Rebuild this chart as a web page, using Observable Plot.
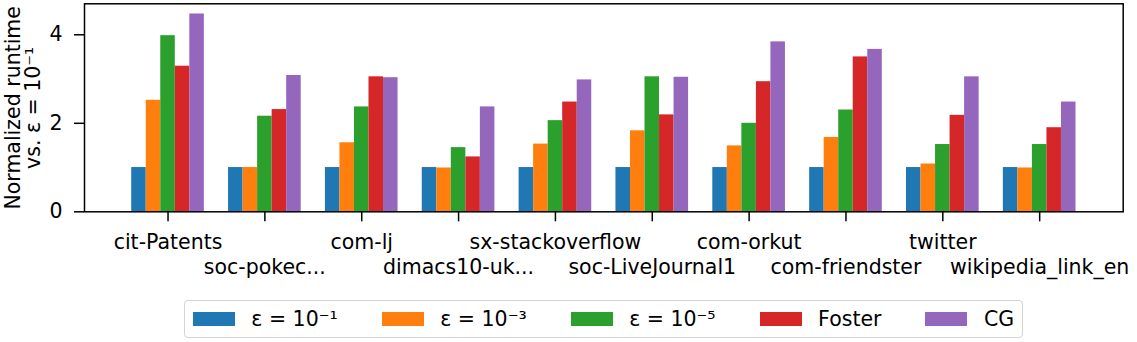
<!DOCTYPE html>
<html>
<head>
<meta charset="utf-8">
<script src="https://cdn.jsdelivr.net/npm/d3@7"></script>
<script src="https://cdn.jsdelivr.net/npm/@observablehq/plot@0.6"></script>
<style>
  html, body { margin: 0; padding: 0; background: #fff; }
  body { width: 1137px; height: 342px; overflow: hidden; font-family: "DejaVu Sans", sans-serif; }
  #chart svg { display: block; }
  #legendWrap { box-sizing: border-box; width: 1137px; padding-left: 84px; padding-right: 14px; display: flex; justify-content: center; margin-top: 10px; }
  #legend { display: flex; align-items: center; border: 1px solid #d4d4d4; border-radius: 4px; padding: 0 8px 0 8px; height: 36px; font-size: 20.5px; color: #000; box-shadow: 0 0 1px rgba(0,0,0,0.05); }
  .item { display: flex; align-items: center; }
  .item + .item { margin-left: 44px; }
  .sw { width: 42px; height: 14px; margin-right: 16.5px; }
</style>
</head>
<body>
<div id="chart"></div>
<div id="legendWrap"><div id="legend"></div></div>
<script>
// ---- data ----
const datasets = ["cit-Patents", "soc-pokec...", "com-lj", "dimacs10-uk...", "sx-stackoverflow",
                  "soc-LiveJournal1", "com-orkut", "com-friendster", "twitter", "wikipedia_link_en"];
const seriesNames = ["ε = 10⁻¹", "ε = 10⁻³", "ε = 10⁻⁵", "Foster", "CG"];
const eps1   = [1.00, 1.00, 1.00, 1.00, 1.00, 1.00, 1.00, 1.00, 1.00, 1.00];
const eps3   = [2.52, 1.00, 1.56, 0.99, 1.53, 1.83, 1.49, 1.68, 1.08, 0.99];
const eps5   = [3.98, 2.16, 2.37, 1.45, 2.06, 3.05, 2.00, 2.30, 1.52, 1.52];
const foster = [3.29, 2.31, 3.05, 1.24, 2.48, 2.19, 2.94, 3.50, 2.18, 1.90];
const cg     = [4.47, 3.08, 3.03, 2.37, 2.98, 3.04, 3.84, 3.67, 3.05, 2.48];
const yTicks = [0, 2, 4];
const yLabel = "Normalized runtime\nvs. ε = 10⁻¹";
const colors = ["#1f77b4", "#ff7f0e", "#2ca02c", "#d62728", "#9467bd"];

// ---- build table ----
const seriesValues = [eps1, eps3, eps5, foster, cg];
const groupWidth = 0.75;
const barW = groupWidth / seriesNames.length;
const rows = [];
seriesValues.forEach((vals, j) => {
  vals.forEach((v, i) => {
    rows.push({
      dataset: datasets[i], series: seriesNames[j], value: v,
      x1: i - groupWidth / 2 + j * barW,
      x2: i - groupWidth / 2 + (j + 1) * barW
    });
  });
});
const idx = datasets.map((d, i) => i);
const evenTicks = idx.filter(i => i % 2 === 0);
const oddTicks = idx.filter(i => i % 2 === 1);
const pad = 0.4875;

const chart = Plot.plot({
  width: 1137,
  height: 290,
  marginLeft: 84,
  marginRight: 14.3,
  marginTop: 3.3,
  marginBottom: 78.7,
  style: { fontFamily: "DejaVu Sans", fontSize: "20.5px", color: "#000", background: "#fff", overflow: "visible" },
  x: { type: "linear", domain: [-groupWidth / 2 - pad, datasets.length - 1 + groupWidth / 2 + pad] },
  y: { domain: [0, 4.7] },
  color: { domain: seriesNames, range: colors },
  marks: [
    Plot.rect(rows, { x1: "x1", x2: "x2", y1: 0, y2: "value", fill: "series" }),
    Plot.frame({ stroke: "#000", strokeWidth: 1.5 }),
    Plot.axisY(yTicks, { tickSize: 10, tickPadding: 12, strokeWidth: 1.5, label: null, fontSize: 20.5 }),
    Plot.axisX(evenTicks, { tickSize: 10, tickPadding: 12.4, strokeWidth: 1.5, label: null, fontSize: 20.5, tickFormat: i => datasets[i] }),
    Plot.axisX(oddTicks, { tickSize: 10, tickPadding: 37.4, strokeWidth: 1.5, label: null, fontSize: 20.5, tickFormat: i => datasets[i] }),
    Plot.text([yLabel], { frameAnchor: "left", dx: -61, rotate: -90, lineHeight: 1.0, fontSize: 20.5, fill: "#000", textAnchor: "middle", lineAnchor: "middle" })
  ]
});
document.getElementById("chart").appendChild(chart);

// ---- legend ----
const legend = document.getElementById("legend");
seriesNames.forEach((name, j) => {
  const item = document.createElement("div");
  item.className = "item";
  const sw = document.createElement("div");
  sw.className = "sw";
  sw.style.background = colors[j];
  const t = document.createElement("span");
  t.textContent = name;
  item.appendChild(sw);
  item.appendChild(t);
  legend.appendChild(item);
});
</script>
</body>
</html>
